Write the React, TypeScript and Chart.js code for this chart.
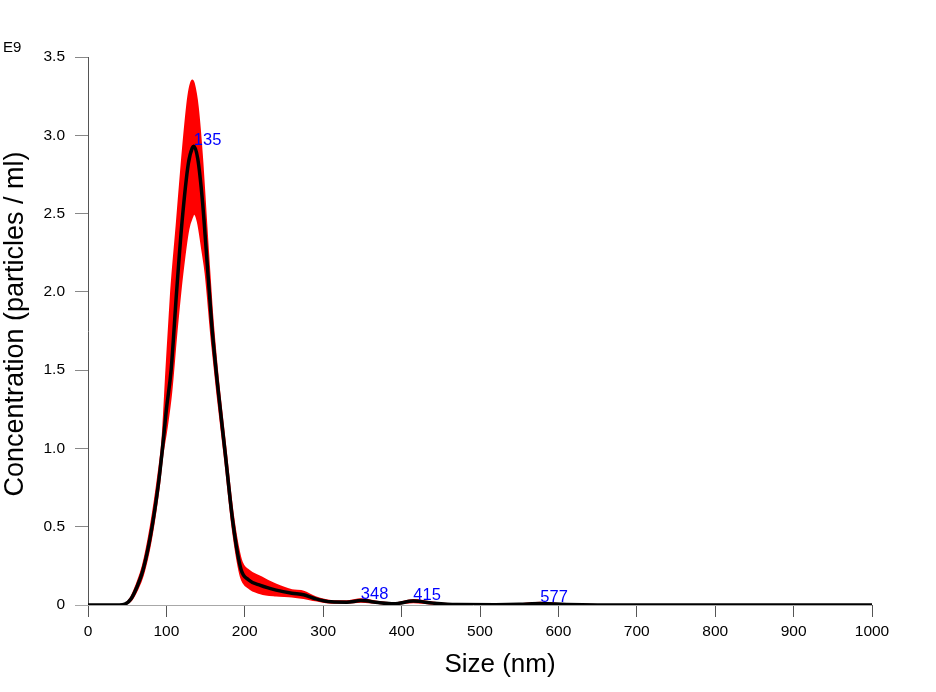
import React, { useEffect, useRef } from "react";
import { Chart, registerables } from "chart.js";

Chart.register(...registerables);

// Size (nm) sample positions
const sizes = [0, 40, 47, 55, 62, 70, 80, 90, 95, 100, 106, 113, 120, 128, 133, 135, 140, 146, 150, 158, 165, 175, 185, 195, 205, 220, 240, 260, 275, 290, 310, 330, 348, 370, 390, 415, 440, 470, 520, 550, 577, 610, 650, 1000];
// Mean concentration (E9 particles / ml)
const meanConc = [0, 0, 0.005, 0.04, 0.11, 0.22, 0.45, 0.78, 1.0, 1.25, 1.5, 2.0, 2.45, 2.82, 2.92, 2.93, 2.85, 2.58, 2.32, 1.78, 1.42, 0.97, 0.52, 0.23, 0.16, 0.125, 0.095, 0.075, 0.065, 0.04, 0.02, 0.018, 0.028, 0.016, 0.008, 0.025, 0.012, 0.003, 0.002, 0.004, 0.01, 0.003, 0, 0];
// Mean + error
const upperConc = [0, 0, 0.006, 0.05, 0.13, 0.25, 0.5, 0.84, 1.06, 1.5, 2.0, 2.42, 2.85, 3.25, 3.35, 3.33, 3.18, 2.82, 2.5, 1.88, 1.48, 1.02, 0.57, 0.29, 0.22, 0.18, 0.13, 0.095, 0.085, 0.05, 0.026, 0.024, 0.036, 0.02, 0.01, 0.032, 0.016, 0.004, 0.003, 0.006, 0.014, 0.004, 0, 0];
// Mean - error
const lowerConc = [0, 0, 0.004, 0.03, 0.09, 0.19, 0.41, 0.74, 0.96, 1.12, 1.35, 1.75, 2.1, 2.4, 2.48, 2.5, 2.45, 2.26, 2.12, 1.68, 1.35, 0.92, 0.47, 0.18, 0.11, 0.075, 0.06, 0.055, 0.045, 0.03, 0.015, 0.014, 0.02, 0.012, 0.006, 0.018, 0.008, 0.002, 0.001, 0.002, 0.006, 0.002, 0, 0];

// Peak annotations
const peakSizes = [135, 348, 415, 577];
const peakHeights = [2.93, 0.028, 0.025, 0.01];

// Tick labels
const xTickValues = [0, 100, 200, 300, 400, 500, 600, 700, 800, 900, 1000];
const yTickLabels = ["0", "0.5", "1.0", "1.5", "2.0", "2.5", "3.0", "3.5"];

const FONT = "'Liberation Sans', Arial, Helvetica, sans-serif";

const toXY = (ys: number[]) => sizes.map((x, i) => ({ x, y: ys[i] }));

const overlayPlugin = {
  id: "overlay",
  afterDraw(chart: any) {
    const ctx = chart.ctx;
    const xs = chart.scales.x;
    const ys = chart.scales.y;
    const area = chart.chartArea;
    ctx.save();
    // extended x-axis baseline
    ctx.strokeStyle = "#a8a8a8";
    ctx.lineWidth = 1;
    ctx.beginPath();
    ctx.moveTo(75, Math.round(area.bottom) + 0.5);
    ctx.lineTo(area.right, Math.round(area.bottom) + 0.5);
    ctx.stroke();

    // peak labels
    ctx.fillStyle = "#0000ff";
    ctx.font = `16.5px ${FONT}`;
    ctx.textAlign = "left";
    ctx.textBaseline = "alphabetic";
    peakSizes.forEach((p, i) => {
      const px = xs.getPixelForValue(p);
      const py = ys.getPixelForValue(peakHeights[i]) - 1.5;
      ctx.fillText(String(p), px, py);
    });

    // E9 exponent
    ctx.fillStyle = "#000";
    ctx.font = `15px ${FONT}`;
    ctx.fillText("E9", 3, 52);

    // x title
    ctx.font = `26px ${FONT}`;
    ctx.textAlign = "center";
    ctx.fillText("Size (nm)", 500, 672);

    // y title
    ctx.font = `27px ${FONT}`;
    ctx.translate(23, 324);
    ctx.rotate(-Math.PI / 2);
    ctx.fillText("Concentration (particles / ml)", 0, 0);
    ctx.restore();
  },
};

export default function App() {
  const canvasRef = useRef<HTMLCanvasElement | null>(null);

  useEffect(() => {
    if (!canvasRef.current) return;
    const chart = new Chart(canvasRef.current, {
      type: "line",
      data: {
        datasets: [
          {
            label: "mean",
            data: toXY(meanConc),
            borderColor: "#000000",
            borderWidth: 3.5,
            pointRadius: 0,
            fill: false,
            cubicInterpolationMode: "monotone",
          },
          {
            label: "upper",
            data: toXY(upperConc),
            borderColor: "#ff0000",
            borderWidth: 2,
            pointRadius: 0,
            fill: false,
            cubicInterpolationMode: "monotone",
          },
          {
            label: "lower",
            data: toXY(lowerConc),
            borderColor: "#ff0000",
            backgroundColor: "#ff0000",
            borderWidth: 2,
            pointRadius: 0,
            fill: 1,
            cubicInterpolationMode: "monotone",
          },
        ],
      },
      options: {
        responsive: false,
        animation: false,
        layout: { padding: { left: 0, top: 57, right: 64, bottom: 0 } },
        plugins: {
          legend: { display: false },
          tooltip: { enabled: false },
          title: { display: false },
        },
        scales: {
          x: {
            type: "linear",
            min: 0,
            max: 1000,
            afterFit: (s: any) => {
              s.height = 87;
            },
            afterBuildTicks: (s: any) => {
              s.ticks = xTickValues.map((v) => ({ value: v }));
            },
            ticks: {
              color: "#000",
              font: { family: FONT, size: 15.5 },
              padding: 5,
              maxRotation: 0,
              autoSkip: false,
              callback: (v: any) => String(v),
            },
            grid: {
              drawOnChartArea: false,
              drawTicks: true,
              tickLength: 12,
              color: "#555",
            },
            border: { display: false },
          },
          y: {
            type: "linear",
            min: 0,
            max: 3.5,
            afterFit: (s: any) => {
              s.width = 88;
            },
            afterBuildTicks: (s: any) => {
              s.ticks = yTickLabels.map((_, i) => ({ value: i * 0.5 }));
            },
            ticks: {
              color: "#000",
              font: { family: FONT, size: 15.5 },
              padding: 10,
              autoSkip: false,
              callback: (_v: any, i: number) => yTickLabels[i],
            },
            grid: {
              drawOnChartArea: false,
              drawTicks: true,
              tickLength: 13,
              color: "#888",
            },
            border: { display: true, color: "#555", width: 1 },
          },
        },
      },
      plugins: [overlayPlugin],
    });
    return () => chart.destroy();
  }, []);

  return (
    <div style={{ position: "absolute", left: 0, top: 0, width: 936, height: 692, background: "#fff" }}>
      <canvas ref={canvasRef} width={936} height={692} />
    </div>
  );
}
